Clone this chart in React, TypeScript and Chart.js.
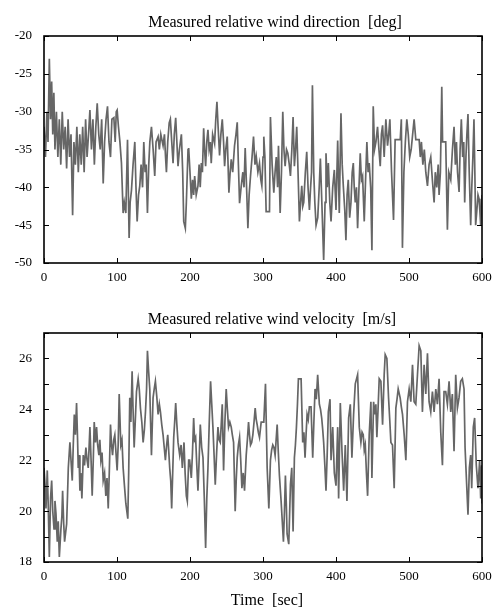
import React, { useEffect, useRef } from "react";
import { Chart, registerables } from "chart.js";

Chart.register(...registerables);

// ---------- DATA ----------
const timeTicks = [0, 100, 200, 300, 400, 500, 600];
const dirTicks = [-50, -45, -40, -35, -30, -25, -20];
const velTicks = [18, 19, 20, 21, 22, 23, 24, 25, 26, 27];
const velLabelled = [18, 20, 22, 24, 26];

const dirTimes = [
  0, 2, 4, 5.5, 7.3, 9, 10.5, 12, 13.5, 15,
  17, 19, 21, 23, 25, 27, 29, 31, 33, 35,
  37, 39.2, 41, 43, 45, 47, 49, 51, 53, 55,
  57, 59, 61, 62.9, 65, 67, 69, 71, 72.9, 75,
  77, 79, 81.1, 83, 85, 87, 89, 91.1, 93, 95.7,
  97.5, 99, 100.2, 102, 104, 106.1, 108.4, 110, 112.1, 114.4,
  116.6, 118, 119.8, 122, 124.4, 126, 127.6, 129.5, 131.2, 133,
  135, 136.7, 138.5, 140, 141.7, 143.5, 145, 147.2, 149.5, 151.7,
  153.5, 156.3, 158, 160, 163.1, 165, 166.5, 167.7, 169.5, 171.5,
  173.1, 175, 176.8, 178.5, 180.4, 182, 183.6, 185.5, 188.2, 190,
  191.4, 193.6, 195, 197.3, 198.2, 200, 201.8, 203.5, 205, 206.4,
  208.5, 210.9, 212.5, 214, 215.5, 217, 218.7, 220, 221.4, 223,
  224.6, 226.2, 227.8, 229.1, 231, 233.7, 235.3, 236.9, 238.5, 240.5,
  242.3, 244.2, 246, 247.4, 249, 251, 253.3, 255, 256.5, 258.5,
  261, 263, 264.7, 266.3, 267.9, 270, 272.4, 274, 275.6, 277.5,
  279.3, 281, 282.9, 285, 287, 289, 290.7, 293, 295.2, 297,
  298.4, 300, 301.1, 302.6, 304.3, 308.9, 310.2, 312.5, 314.8, 316.5,
  318.2, 320, 321.2, 323.5, 325.3, 327.1, 328.7, 330.3, 332.2, 334,
  336, 337.6, 339.5, 341.2, 343, 344.6, 346.2, 348, 349.9, 351.5,
  353.1, 354.5, 355.8, 358, 359.9, 361.7, 363.6, 365.2, 366.5, 367.7,
  369.5, 371, 372.7, 375, 377, 378.6, 380.6, 383.1, 385, 386.3,
  388, 389.5, 391.5, 393.2, 395.5, 397.7, 400, 402.3, 404.5, 406.8,
  408.5, 410, 412, 413.6, 415.2, 416.8, 418.7, 420.5, 422.2, 423.7,
  425, 426.4, 428, 429.6, 431.5, 433.2, 434.8, 436.4, 438.7, 440.5,
  442.3, 444, 445.5, 447.5, 449.2, 451, 452.8, 454.7, 456.9, 458.8,
  460.6, 462.2, 463.8, 466, 468.3, 470.6, 472.2, 473.8, 476.1, 478.8,
  481, 488, 489.5, 491, 493, 495, 497, 499, 501, 503,
  505, 507, 509.3, 513.9, 515.5, 517, 519, 521, 523, 525.3,
  527.5, 529.8, 532, 534.4, 536, 538, 540, 541.2, 543, 544.9,
  546, 550.3, 552.6, 554.5, 557.2, 559.5, 561.7, 563.5, 565, 566.5,
  568.6, 570, 571.7, 573.5, 575, 576.3, 578, 579.3, 580.8, 582.5,
  584.5, 586, 587.5, 589, 590.2, 591.3, 593, 594.5, 595.9, 597,
  598.2, 600,
];

const dirValues = [
  -32, -36, -30, -34, -23, -31, -26, -33, -27.5, -35,
  -30, -36, -31, -37, -30, -35, -32, -37.5, -31, -36,
  -33, -43.7, -34, -37, -32, -38, -33, -37, -32, -38,
  -31, -36, -33, -29.8, -35, -31, -37, -32, -28.9, -33,
  -35, -31, -39.5, -34, -31, -29.3, -34, -36, -31, -30.8,
  -34, -30, -29.8, -32, -34, -36.8, -43.4, -42, -43.4, -33.7,
  -46.7, -42, -40.4, -37, -34, -40, -44.5, -41, -39.8, -37,
  -40, -34, -38, -37, -43.4, -37, -34, -32, -35, -38.5,
  -34, -33.3, -35, -33, -34.5, -33, -36, -38, -34, -31.5,
  -31, -34, -36.8, -33, -30.8, -34, -37.2, -35, -33, -38,
  -44.5, -45.4, -42, -35, -34.8, -38, -41.5, -39, -41, -38.5,
  -41, -39.8, -37, -40, -36.8, -38, -32.2, -35, -37.2, -34,
  -32.4, -35, -34, -36.8, -33, -34.2, -31, -28.7, -32, -35.8,
  -33, -31, -34, -37.2, -35, -33.3, -40.7, -38, -36.3, -38,
  -34.5, -33, -31.4, -37, -42.1, -40, -38, -40, -34.8, -40,
  -45.4, -41, -38.5, -36, -33.3, -37, -35.9, -38, -36.8, -39,
  -39.8, -36, -33.3, -36, -43.2, -43.2, -30.7, -37, -40.7, -38,
  -36, -40, -34.5, -43.4, -38, -30, -35, -37.2, -35, -35.5,
  -37, -38.5, -35, -30.7, -37.2, -35, -32, -38, -44.5, -42,
  -39.8, -42.5, -42, -38, -35.3, -40, -43, -40, -38, -26.5,
  -38, -42, -45, -44, -40, -36.2, -42, -49.6, -42, -35.5,
  -40, -36.8, -42, -44.5, -40, -37.7, -43, -33.8, -43.4, -30.2,
  -37, -39.8, -43, -47, -41, -39, -44, -42, -38, -36.8,
  -40, -42, -40, -45.4, -40, -35.5, -39, -38.5, -44.5, -39,
  -34, -38, -36.8, -40, -48.3, -29.3, -35, -34, -32, -35,
  -37.2, -33, -31.8, -36, -31, -34.5, -33, -31, -38, -44.3,
  -33.7, -33.7, -31, -48, -38, -34, -31, -33, -36, -35,
  -33, -31, -33.7, -33.7, -36, -34, -37, -35, -38, -39.8,
  -37, -36, -39, -42, -38, -40, -37, -41, -38, -26.7,
  -34, -34, -45.6, -38, -39, -35, -32, -37, -34, -38,
  -40.6, -35, -31, -36, -34, -42, -36, -33, -30.3, -38,
  -45, -40, -36, -31, -38, -45, -43, -41, -41.5, -43,
  -45, -41,
];

const velTimes = [
  0, 1.5, 2.7, 4.5, 6, 7.3, 9, 10.5, 12, 13.7,
  15, 16.4, 18.2, 19.5, 21, 23.2, 24.5, 25.5, 27, 28.2,
  31, 32.2, 33.3, 35.5, 37, 38.7, 40, 41.5, 43, 44.6,
  46, 46.9, 48, 49.2, 50.5, 51.9, 53.8, 55.5, 57.4, 59,
  60.6, 62.9, 64.5, 66, 67.5, 68.8, 70.5, 72, 73.5, 75.2,
  76.5, 77.9, 79.5, 81.1, 83, 84.7, 86.3, 88, 89.5, 91.1,
  92.5, 93.9, 95.5, 97, 98.6, 100.2, 101.6, 103, 105.2, 106.8,
  108.4, 110.2, 112.1, 114.8, 116, 117.5, 119, 120.7, 122, 123.5,
  125, 126.7, 129, 130.5, 132.1, 134, 135.8, 137.5, 139, 140.5,
  141.7, 143.3, 144.9, 146, 147.2, 149.4, 151, 152.6, 154.5, 156.3,
  158, 159.5, 161.3, 163.1, 164.7, 166.3, 168, 169.5, 171, 172.2,
  173.6, 174.9, 176.3, 177.7, 179, 180.4, 182, 183.6, 185.9, 187.8,
  189.5, 191.8, 193.3, 195, 196.3, 198.2, 199.5, 201.8, 203.4, 205,
  206.3, 207.7, 209.3, 210.9, 212.5, 214.1, 216, 217.8, 219.6, 221.4,
  223, 224.6, 226.4, 228.2, 229.8, 231.4, 233, 234.6, 236.5, 238.3,
  239.8, 241.4, 242.8, 244.2, 246, 247.8, 249.6, 251.2, 252.8, 254.6,
  256.5, 258, 259.7, 261.9, 263.3, 264.7, 266.3, 267.9, 269.5, 271.1,
  272.9, 274.7, 277, 278.6, 280.2, 281.5, 282.9, 284.5, 286.1, 287.7,
  289.3, 290.7, 292, 293.6, 295.2, 297.5, 301.1, 303.4, 305.7, 308,
  310.2, 311.8, 313.4, 315, 316.6, 318, 319.4, 321, 322.5, 324.8,
  326.4, 328, 329.4, 330.7, 332, 333, 335.3, 337.6, 339.4, 341.2,
  343, 344.4, 345.8, 347.2, 348.5, 352.2, 354.4, 356, 357.6, 359,
  360.4, 362, 363.5, 365.8, 368.1, 369.7, 371.3, 373, 374.9, 377.2,
  378.8, 380.4, 381.8, 383.1, 384.7, 386.3, 387.9, 389.5, 391.8, 393.2,
  395.5, 397.7, 400, 402.3, 403.6, 405.9, 408.2, 410.5, 412.7, 415,
  417.3, 419.6, 421.8, 424.1, 426.4, 429.6, 431.9, 434.1, 435.7, 437.3,
  438.7, 440.1, 441.7, 443.3, 445.5, 447.8, 449.2, 451.5, 453, 454.6,
  456, 457.6, 459.2, 461.5, 463.8, 466, 467.4, 469.7, 472, 473.6,
  475.2, 477.4, 479.7, 482, 483.6, 485.2, 487.9, 489.5, 491.1, 493.4,
  495.7, 497.9, 500.2, 502.5, 504.8, 507, 509.3, 511.6, 513.9, 516.2,
  518.4, 520.7, 523, 525.3, 527.5, 529.8, 532.1, 534.4, 536.7, 538.9,
  541.2, 543.5, 545.8, 548, 550.3, 552.6, 554.9, 557.2, 559.4, 561.7,
  564, 566.3, 568.5, 570.8, 573.1, 575.4, 576.8, 579, 580.8, 582.7,
  584.5, 585.9, 588.1, 589.9, 592.2, 594.5, 596.8, 598.2, 599.5, 600,
];

const velValues = [
  21.7, 21, 20.1, 21.6, 20, 18.2, 20.5, 21.2, 20, 19.3,
  20.4, 19.9, 18.8, 19.6, 18.2, 19.3, 19.8, 20.8, 19.5, 18.8,
  19.5, 20.6, 21.7, 22.7, 22, 21.2, 22.5, 23.8, 23, 24.25,
  22.8, 21.7, 22.2, 20.8, 21.5, 20.5, 22.2, 21.8, 22.5, 22,
  21.7, 23.3, 22, 20.6, 22, 23.5, 22.7, 23.3, 22.6, 22.2,
  22.8, 22, 22.3, 21.2, 21.5, 20.6, 21.3, 20.1, 21.6, 23.4,
  22.6, 22.2, 22.8, 23, 22.3, 21.6, 22.6, 24.6, 22.6, 22.8,
  21.7, 21, 20.3, 19.7, 21.5, 24.45, 23.5, 25.5, 24, 22.5,
  23.5, 24.7, 25.2, 24.8, 24.05, 23.5, 22.7, 23.2, 23.9, 24.8,
  26.3, 25.5, 24.8, 23.5, 22.2, 24.45, 24.8, 25.1, 24.5, 23.8,
  24.2, 23.9, 23.4, 23, 22.5, 22, 22.6, 23, 22.3, 21.7,
  21.2, 20.1, 21.5, 22.9, 23.5, 24.25, 23.4, 22.7, 22.2, 22.6,
  21.7, 22.7, 21.5, 20.6, 20.4, 22, 22, 21.3, 22.3, 23.66,
  22.8, 22.9, 21.8, 20.8, 22, 23.4, 22.5, 22.1, 20.5, 18.55,
  20.5, 21.7, 23.5, 25.1, 24.2, 23.3, 22.2, 21.04, 22.3, 23.3,
  22.8, 22.7, 23.4, 24.2, 21.6, 23.5, 24.8, 24, 23.3, 23.5,
  23.3, 23, 22.7, 20, 21.2, 22.1, 22.6, 22.9, 22, 20.9,
  21.5, 20.8, 22.2, 22.8, 23.5, 23, 22.6, 22.7, 23, 23.5,
  24.05, 23.6, 23.4, 23.1, 22.9, 23.5, 23.5, 25, 21.7, 20.1,
  22, 22.4, 22.6, 22.5, 22.2, 22.8, 23.4, 22.3, 21.4, 20.4,
  19.6, 18.8, 20, 21.4, 20.2, 19.1, 18.7, 21.04, 21.7, 19.2,
  22.1, 22.6, 23.3, 24.2, 25.2, 25.2, 22.7, 23.1, 22.1, 23,
  23.8, 23.6, 24.1, 24.1, 22.1, 23.5, 24.8, 24.4, 25.36, 24.2,
  24, 23.66, 23.2, 22.7, 21.8, 20.8, 22.2, 23.9, 24.4, 22,
  23.3, 21.5, 21, 23.3, 20.5, 24.25, 22.35, 20.8, 22.6, 20.4,
  23.66, 24.2, 22.1, 23.8, 25, 25.36, 23.3, 22.7, 23.1, 23,
  22.4, 22.6, 21.5, 20.6, 23, 24.3, 21.3, 24.3, 23.8, 24.2,
  22.9, 24, 25.2, 25.1, 23.4, 25.36, 26.15, 26, 24.45, 23.6,
  22.7, 22.6, 20.9, 24.05, 24.4, 24.8, 24.45, 24.1, 23.8, 23,
  22, 24.3, 24.8, 24.3, 25.75, 24.3, 24.2, 25.36, 26.5, 26.3,
  23.9, 25.75, 24.6, 26.2, 24.3, 23.9, 24.7, 23.9, 24.8, 24.2,
  25.2, 23.1, 21.8, 24.7, 24.7, 24.2, 25.1, 23.9, 24.6, 22.35,
  25.36, 24.05, 24.45, 25.1, 25.2, 24.8, 22.5, 21.04, 19.86, 21.7,
  22.2, 20.9, 23.3, 23.66, 21.8, 20.9, 22, 20.5, 21.8, 20.3,
];

const dirTitle = "Measured relative wind direction  [deg]";
const velTitle = "Measured relative wind velocity  [m/s]";
const timeTitle = "Time  [sec]";

// ---------- STYLE ----------
const SERIF = "'Liberation Serif', 'Times New Roman', Times, serif";
const LINE_COLOR = "#666666";

function toPoints(xs: number[], ys: number[]) {
  const n = Math.min(xs.length, ys.length);
  const out: { x: number; y: number }[] = [];
  for (let i = 0; i < n; i++) out.push({ x: xs[i], y: ys[i] });
  return out;
}

const framePlugin = {
  id: "gnuFrame",
  afterDraw(chart: any, _args: any, opts: any) {
    const { ctx, chartArea: a, scales } = chart;
    const L = 5;
    ctx.save();
    ctx.strokeStyle = "#000";
    ctx.lineWidth = 1;
    ctx.beginPath();
    scales.x.ticks.forEach((t: any) => {
      const px = Math.round(scales.x.getPixelForValue(t.value)) + 0.5;
      ctx.moveTo(px, a.bottom);
      ctx.lineTo(px, a.bottom - L);
      ctx.moveTo(px, a.top);
      ctx.lineTo(px, a.top + L);
    });
    scales.y.ticks.forEach((t: any) => {
      const py = Math.round(scales.y.getPixelForValue(t.value)) + 0.5;
      ctx.moveTo(a.left, py);
      ctx.lineTo(a.left + L, py);
      ctx.moveTo(a.right, py);
      ctx.lineTo(a.right - L, py);
    });
    ctx.stroke();

    // frame
    ctx.lineWidth = 1.6;
    ctx.strokeRect(a.left, a.top, a.right - a.left, a.bottom - a.top);

    // titles
    ctx.fillStyle = "#000";
    ctx.textAlign = "center";
    ctx.textBaseline = "alphabetic";
    ctx.font = `16px ${SERIF}`;
    const cx = (a.left + a.right) / 2;
    ctx.fillText(opts.title, cx + opts.titleShift, a.top - 9);
    if (opts.xTitle) {
      ctx.fillText(opts.xTitle, cx + 4, chart.height - 2);
    }
    ctx.restore();
  },
};

function makeConfig(
  xs: number[],
  ys: number[],
  yMin: number,
  yMax: number,
  yTicks: number[],
  labelled: number[],
  title: string,
  titleShift: number,
  xTitle: string | null,
  bottomH: number,
  topPad: number
): any {
  return {
    type: "line",
    data: {
      datasets: [
        {
          data: toPoints(xs, ys),
          borderColor: LINE_COLOR,
          borderWidth: 1.7,
          pointRadius: 0,
          tension: 0,
          fill: false,
        },
      ],
    },
    options: {
      animation: false,
      responsive: true,
      maintainAspectRatio: false,
      layout: { padding: { top: topPad, right: 12, left: 0, bottom: 0 } },
      plugins: {
        legend: { display: false },
        tooltip: { enabled: false },
        title: { display: false },
        gnuFrame: { title, titleShift, xTitle },
      },
      scales: {
        x: {
          type: "linear",
          min: timeTicks[0],
          max: timeTicks[timeTicks.length - 1],
          grid: { display: false, drawTicks: false },
          border: { display: false },
          afterBuildTicks: (s: any) => {
            s.ticks = timeTicks.map((v) => ({ value: v }));
          },
          afterFit: (s: any) => {
            s.height = bottomH;
            s.paddingLeft = 0;
            s.paddingRight = 0;
          },
          ticks: {
            autoSkip: false,
            maxRotation: 0,
            padding: 7,
            color: "#000",
            font: { family: SERIF, size: 13 },
            callback: (v: any) => String(v),
          },
        },
        y: {
          type: "linear",
          min: yMin,
          max: yMax,
          grid: { display: false, drawTicks: false },
          border: { display: false },
          afterBuildTicks: (s: any) => {
            s.ticks = yTicks.map((v) => ({ value: v }));
          },
          afterFit: (s: any) => {
            s.width = 44;
            s.paddingTop = 0;
            s.paddingBottom = 0;
          },
          ticks: {
            autoSkip: false,
            padding: 12,
            color: "#000",
            font: { family: SERIF, size: 13 },
            callback: (v: any) => (labelled.indexOf(Number(v)) >= 0 ? String(v) : ""),
          },
        },
      },
    },
    plugins: [framePlugin],
  };
}

export default function App() {
  const ref1 = useRef<HTMLCanvasElement | null>(null);
  const ref2 = useRef<HTMLCanvasElement | null>(null);

  useEffect(() => {
    if (!ref1.current || !ref2.current) return;
    const c1 = new Chart(
      ref1.current,
      makeConfig(dirTimes, dirValues, -50, -20, dirTicks, dirTicks, dirTitle, 12, null, 27, 36)
    );
    const c2 = new Chart(
      ref2.current,
      makeConfig(velTimes, velValues, 18, 27, velTicks, velLabelled, velTitle, 9, timeTitle, 45, 43)
    );
    return () => {
      c1.destroy();
      c2.destroy();
    };
  }, []);

  return (
    <div style={{ position: "absolute", left: 0, top: 0, width: 494, height: 607, background: "#fff" }}>
      <div style={{ position: "absolute", left: 0, top: 0, width: 494, height: 290 }}>
        <canvas ref={ref1} />
      </div>
      <div style={{ position: "absolute", left: 0, top: 290, width: 494, height: 317 }}>
        <canvas ref={ref2} />
      </div>
    </div>
  );
}
